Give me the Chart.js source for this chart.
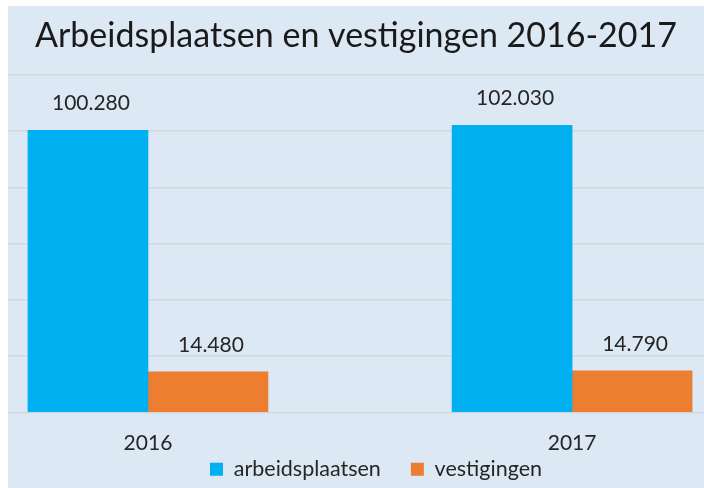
<!DOCTYPE html>
<html>
<head>
<meta charset="utf-8">
<script src="https://cdn.jsdelivr.net/npm/chart.js@4"></script>
<style>
  html, body { margin: 0; padding: 0; background: #ffffff; }
  #wrap { position: absolute; left: 8px; top: 6px; width: 696px; height: 482px; background: #dde8f5; }
</style>
</head>
<body>
<div id="wrap"><canvas id="chart" width="696" height="482"></canvas></div>
<script>
const years = [2016, 2017];
const arbeidsplaatsen = [100280, 102030];
const vestigingen = [14480, 14790];
const yTicksMax = 120000;
const yTicksStep = 20000;

function formatNl(v) {
  return String(v).replace(/\B(?=(\d{3})+(?!\d))/g, '.');
}

const valueLabels = {
  id: 'valueLabels',
  afterDatasetsDraw(chart) {
    const ctx = chart.ctx;
    ctx.save();
    ctx.font = '21px Lato';
    ctx.fillStyle = '#262626';
    ctx.textAlign = 'center';
    ctx.textBaseline = 'middle';
    chart.data.datasets.forEach((ds, i) => {
      chart.getDatasetMeta(i).data.forEach((bar, j) => {
        ctx.fillText(formatNl(ds.data[j].y), bar.x + 3, bar.y - 27);
      });
    });
    ctx.restore();
  }
};

// pull the legend up under the year labels, like Excel does
const legendNudge = {
  id: 'legendNudge',
  afterLayout(chart) {
    const l = chart.legend;
    l.top -= 27; l.bottom -= 27;
    l.left += 20; l.right += 20;
  }
};

const ctx = document.getElementById('chart').getContext('2d');
new Chart(ctx, {
  type: 'bar',
  data: {
    datasets: [
      {
        label: 'arbeidsplaatsen',
        data: years.map((x, i) => ({ x: x, y: arbeidsplaatsen[i] })),
        backgroundColor: '#00b0f0'
      },
      {
        label: 'vestigingen',
        data: years.map((x, i) => ({ x: x, y: vestigingen[i] })),
        backgroundColor: '#ed7d31'
      }
    ]
  },
  options: {
    responsive: false,
    animation: false,
    barThickness: 120,
    layout: { padding: { bottom: -29 } },
    scales: {
      x: {
        type: 'linear',
        offset: false,
        min: 2015.670,
        max: 2017.311,
        grid: { display: false, drawTicks: false },
        border: { display: false },
        afterBuildTicks: scale => { scale.ticks = years.map(v => ({ value: v })); },
        afterFit: scale => { scale.height = 43; },
        ticks: {
          padding: 18,
          maxRotation: 0,
          color: '#262626',
          font: { family: 'Lato', size: 21, lineHeight: 1.2 },
          callback: v => String(v)
        }
      },
      y: {
        min: 0,
        max: yTicksMax,
        ticks: { display: false, stepSize: yTicksStep },
        grid: { color: '#d3d8de', lineWidth: 1.5, drawTicks: false },
        border: { display: false }
      }
    },
    plugins: {
      title: {
        display: true,
        text: 'Arbeidsplaatsen en vestigingen 2016-2017',
        color: '#1a1a1a',
        font: { family: 'Lato', size: 34, weight: 'normal', lineHeight: 1.2 },
        padding: { top: 10, bottom: 18 }
      },
      legend: {
        position: 'bottom',
        labels: {
          boxWidth: 13,
          boxHeight: 13,
          padding: 30,
          color: '#262626',
          font: { family: 'Lato', size: 21.5 }
        }
      },
      tooltip: { enabled: false }
    }
  },
  plugins: [valueLabels, legendNudge]
});
</script>
</body>
</html>
